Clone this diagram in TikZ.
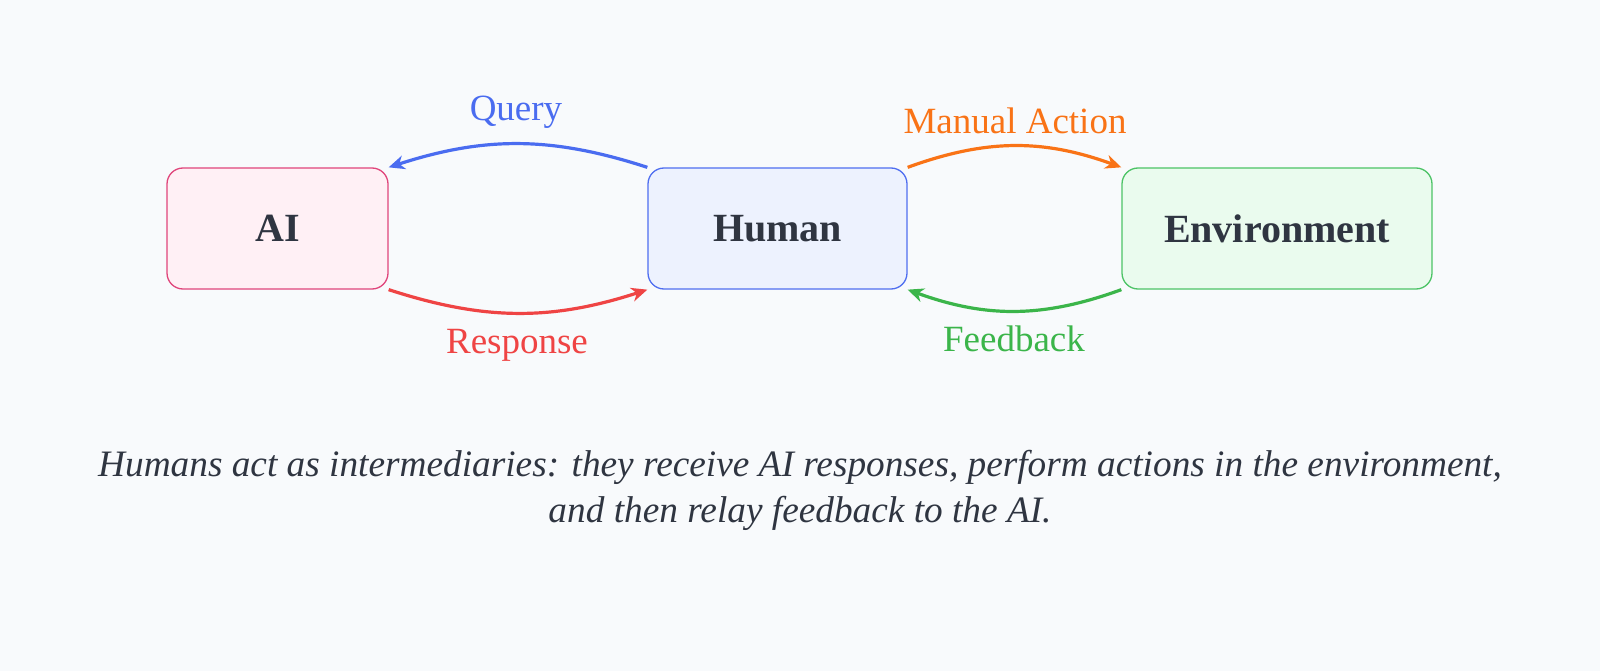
\documentclass[tikz,border=0pt]{standalone}
\usepackage{fontspec}
\setmainfont{Liberation Serif}
\usetikzlibrary{arrows.meta}
\definecolor{bg}{HTML}{F8FAFC}
\definecolor{txt}{HTML}{2F3541}
\definecolor{aifill}{HTML}{FFF0F5}
\definecolor{aidraw}{HTML}{E0457B}
\definecolor{hufill}{HTML}{EDF2FE}
\definecolor{hudraw}{HTML}{4F6EF0}
\definecolor{envfill}{HTML}{EAFBEE}
\definecolor{envdraw}{HTML}{4CC366}
\definecolor{cquery}{HTML}{4A6CF0}
\definecolor{cresp}{HTML}{EF4444}
\definecolor{cman}{HTML}{F97316}
\definecolor{cfeed}{HTML}{3BB54A}
\tikzset{
  box/.style={rounded corners=16pt, line width=1.3pt, minimum height=121pt, inner sep=0pt,
    font=\fontsize{40}{42}\selectfont\bfseries, text=txt},
  conn/.style={line width=3.2pt, -{Stealth[length=16pt,width=14pt,inset=5pt]}},
  lab/.style={font=\fontsize{37}{40}\selectfont, inner sep=0pt, anchor=base},
}
\begin{document}
\begin{tikzpicture}[x=1pt,y=-1pt]
\fill[bg] (0,0) rectangle (1600,671);
\useasboundingbox (0,0) rectangle (1600,671);
\node[box, draw=aidraw, fill=aifill, minimum width=221pt] (ai) at (277.5,228.5) {AI};
\node[box, draw=hudraw, fill=hufill, minimum width=259pt] (hu) at (777.5,228.5) {Human};
\node[box, draw=envdraw, fill=envfill, minimum width=310pt] (env) at (1277,228.5) {Environment};
\draw[conn, cquery] (hu.north west) to[bend right=18] (ai.north east);
\draw[conn, cresp] (ai.south east) to[bend right=18] (hu.south west);
\draw[conn, cman] (hu.north east) to[bend left=20] (env.north west);
\draw[conn, cfeed] (env.south west) to[bend left=20] (hu.south east);
\node[lab, text=cquery] (lq) at (516,121) {Query};
\node[lab, text=cman] (lm) at (1015,134) {Manual Action};
\node[lab, text=cresp] (lr) at (517,353) {Response};
\node[lab, text=cfeed] (lf) at (1014,351) {Feedback};
\node[font=\fontsize{37.3}{46}\selectfont\itshape, text=txt, align=center, anchor=base, inner sep=0pt] (cap) at (800,522)
  {Humans act as intermediaries: they receive AI responses, perform actions in the environment,\\ and then relay feedback to the AI.};
\end{tikzpicture}
\end{document}
